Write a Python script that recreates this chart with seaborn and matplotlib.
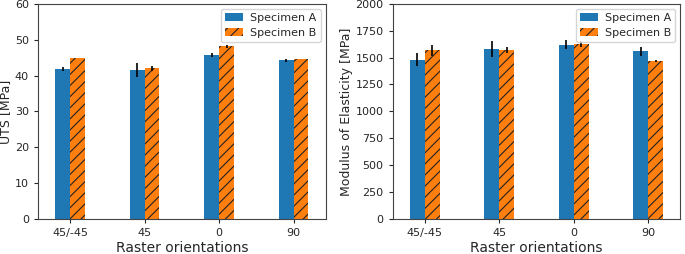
import matplotlib
matplotlib.use("Agg")
import matplotlib.pyplot as plt
import seaborn as sns
import pandas as pd
import numpy as np

orientations = ["45/-45", "45", "0", "90"]
specimens = ["Specimen A", "Specimen B"]
uts_a = [41.8, 41.6, 45.7, 44.2]
uts_b = [44.8, 42.0, 48.1, 44.6]
uts_a_err = [0.6, 2.0, 0.5, 0.5]
uts_b_err = [0.05, 0.7, 0.3, 0.1]
mod_a = [1480, 1578, 1620, 1560]
mod_b = [1568, 1572, 1625, 1468]
mod_a_err = [62, 72, 42, 42]
mod_b_err = [52, 25, 28, 5]

sns.set_style("ticks")
plt.rcParams['font.family'] = ['DejaVu Sans']
plt.rcParams['hatch.linewidth'] = 0.8

fig, axes = plt.subplots(1, 2, figsize=(6.85, 2.54), dpi=100)
colors = ["#1f77b4", "#ff7f0e"]


def draw(ax, a, b, ae, be, ylabel, ylim, yticks):
    df = pd.DataFrame({
        "orientation": orientations * 2,
        "value": a + b,
        "specimen": [specimens[0]] * 4 + [specimens[1]] * 4,
    })
    sns.barplot(data=df, x="orientation", y="value", hue="specimen",
                order=orientations, hue_order=specimens, palette=colors,
                width=0.4, errorbar=None, saturation=1, ax=ax,
                edgecolor="none", linewidth=0)
    bars = [p for p in ax.patches if p.get_width() > 0 and p.get_height() > 0]
    bars = bars[:8]
    errs = ae + be
    for i, p in enumerate(bars):
        if i >= 4:
            p.set_hatch("///")
            p.set_edgecolor("#222222")
            p.set_linewidth(0)
        ax.errorbar(p.get_x() + p.get_width() / 2, p.get_height(), yerr=errs[i],
                    fmt="none", ecolor="black", elinewidth=1.2, capsize=0)
    ax.set_xlim(-0.43, 3.43)
    ax.set_ylim(*ylim)
    ax.set_yticks(yticks)
    ax.set_xlabel("Raster orientations", fontsize=10, labelpad=2)
    ax.set_ylabel(ylabel, fontsize=9, labelpad=2)
    ax.tick_params(labelsize=8, length=3)
    for s in ax.spines.values():
        s.set_visible(True)
        s.set_color("#444444")
        s.set_linewidth(0.8)
    leg = ax.legend(loc="upper right", fontsize=8, frameon=True, fancybox=True,
                    borderaxespad=0.45, handlelength=1.6, handletextpad=0.6,
                    labelspacing=0.4, borderpad=0.4)
    leg.get_frame().set_edgecolor("#cccccc")
    handles = leg.legend_handles
    if len(handles) > 1:
        handles[1].set_hatch("///")
        handles[1].set_edgecolor("#222222")


draw(axes[0], uts_a, uts_b, uts_a_err, uts_b_err, "UTS [MPa]", (0, 60), range(0, 61, 10))
draw(axes[1], mod_a, mod_b, mod_a_err, mod_b_err, "Modulus of Elasticity [MPa]", (0, 2000), range(0, 2001, 250))

fig.subplots_adjust(left=0.0555, right=0.993, top=0.985, bottom=0.138, wspace=0.233)
fig.savefig("out.png", dpi=100)
